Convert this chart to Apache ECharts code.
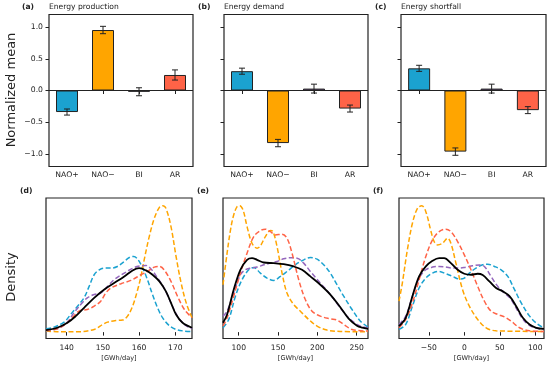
<!DOCTYPE html>
<html>
<head>
<meta charset="utf-8">
<script src="https://cdn.jsdelivr.net/npm/echarts@6/dist/echarts.min.js"></script>
<style>html,body{margin:0;padding:0;background:#fff}#c{width:550px;height:365px}</style>
</head>
<body>
<div id="c"></div>
<script>
// ---------- data ----------
const categories = ['NAO+', 'NAO\u2212', 'BI', 'AR'];
const prodMean = [-0.34, 0.955, -0.02, 0.245];
const prodErr = [0.048, 0.058, 0.063, 0.08];
const demMean = [0.305, -0.83, 0.03, -0.285];
const demErr = [0.048, 0.058, 0.07, 0.055];
const shortMean = [0.35, -0.965, 0.03, -0.31];
const shortErr = [0.048, 0.058, 0.07, 0.055];
const barTicks = [-1, -0.5, 0, 0.5, 1];

const dTicks = [140, 150, 160, 170];
const eTicks = [100, 150, 200, 250];
const fTicks = [-50, 0, 50, 100];

// Energy production densities (relative units)
const dAll = [[134.3,1.6],[137.4,3.4],[140.2,7.3],[142.5,12.5],[144.8,19.0],[147.6,26.8],[150.3,33.2],[153.1,38.4],[155.9,43.6],[158.2,48.3],[160.0,50.1],[161.9,48.3],[163.7,44.9],[165.6,39.7],[167.4,31.9],[168.8,22.9],[170.2,13.8],[172.0,7.3],[174.6,3.4]];
const dNAOp = [[134.3,2.6],[136.5,3.9],[139.3,7.8],[141.1,13.8],[143.0,20.3],[144.8,26.8],[146.2,35.8],[147.6,44.9],[149.0,48.8],[150.3,50.1],[152.2,50.1],[154.0,51.4],[155.9,55.3],[157.3,58.4],[158.5,59.2],[159.6,57.1],[161.0,50.1],[162.3,41.0],[163.7,29.4],[165.1,19.0],[166.5,11.2],[168.3,5.2],[170.2,2.1],[172.5,0.8],[174.6,0.5]];
const dNAOm = [[134.3,0.8],[137.4,0.3],[140.2,0.3],[143.0,0.3],[147.6,2.1],[150.0,6.0],[151.3,7.8],[153.6,9.1],[155.4,9.4],[156.8,12.5],[158.2,20.3],[159.6,33.2],[160.5,43.6],[161.4,56.6],[162.8,74.8],[164.2,89.1],[165.6,97.7],[166.5,99.0],[167.4,96.9],[168.8,82.6],[170.2,59.2],[171.6,38.4],[173.0,22.9],[174.6,11.2]];
const dBI = [[134.3,1.0],[137.4,2.6],[140.2,7.8],[142.0,15.1],[143.9,21.6],[145.7,26.8],[147.6,29.4],[149.4,30.6],[151.3,35.8],[153.1,41.0],[155.9,46.2],[158.7,50.6],[160.5,51.9],[161.9,52.2],[163.3,49.4],[165.1,42.3],[166.9,34.5],[168.8,22.9],[170.6,12.5],[172.5,6.0],[174.6,2.6]];
const dAR = [[134.3,1.6],[137.4,2.6],[140.2,7.3],[142.0,12.5],[143.4,16.4],[145.7,17.7],[147.6,20.3],[149.4,24.2],[150.8,30.6],[152.2,34.5],[155.0,37.9],[157.7,40.5],[160.5,44.9],[162.3,47.5],[164.2,50.9],[165.6,51.4],[166.9,48.8],[168.8,39.7],[170.6,28.1],[172.5,17.7],[174.6,11.2]];

// Energy demand densities
const eAll = [[80,7.3],[85.2,13.8],[93.6,33.2],[102.1,48.8],[110.6,56.6],[116.9,57.9],[123.3,56.6],[131.8,54.5],[144.5,54.0],[157.2,53.2],[169.9,51.4],[180.5,48.8],[191.1,43.6],[203.8,37.1],[216.5,29.4],[229.2,19.5],[239.8,10.5],[250.4,5.0],[257.0,3.5],[264.4,2.6]];
const eNAOp = [[80,3.4],[87.3,9.9],[95.8,28.1],[104.2,41.0],[112.7,48.8],[119.1,50.6],[127.5,46.2],[136.0,42.3],[144.5,40.5],[153.0,43.6],[161.4,47.5],[172.0,52.7],[182.6,56.6],[191.1,58.4],[199.6,57.1],[208.1,52.7],[216.5,46.2],[225.0,37.1],[233.5,28.1],[244.1,17.7],[254.7,8.6],[264.4,3.9]];
const eNAOm = [[80,37.1],[85.2,61.8],[89.4,79.5],[93.6,91.7],[97.9,98.2],[101.3,99.0],[105.5,95.6],[110.6,82.6],[116.9,69.6],[123.3,65.7],[127.5,67.5],[133.9,74.8],[140.3,79.5],[143.6,78.7],[148.7,67.0],[155.1,46.2],[161.4,30.6],[169.9,21.6],[178.4,16.4],[189.0,9.9],[199.6,4.7],[212.3,1.6],[229.2,0.5],[264.4,0.3]];
const eBI = [[80,12.5],[85.2,16.4],[93.6,30.6],[102.1,44.9],[108.5,48.8],[114.8,50.1],[123.3,50.9],[131.8,52.7],[140.3,54.0],[148.7,55.3],[157.2,57.4],[165.7,58.2],[174.2,57.9],[182.6,54.0],[191.1,47.5],[203.8,38.4],[216.5,29.4],[229.2,19.0],[241.9,9.9],[254.7,4.7],[264.4,3.4]];
const eAR = [[80,4.7],[85.2,11.2],[93.6,28.1],[102.1,46.2],[110.6,61.8],[119.1,74.8],[127.5,79.5],[133.9,80.6],[140.3,78.7],[146.6,76.1],[155.1,76.6],[161.4,73.5],[167.8,61.8],[176.3,41.0],[184.7,25.5],[193.2,16.4],[203.8,12.5],[216.5,10.4],[225.0,9.4],[233.5,6.0],[244.1,2.1],[264.4,0.8]];

// Energy shortfall densities
const fAll = [[-92,4.7],[-82.5,11.2],[-73.1,28.1],[-63.7,43.6],[-54.2,51.4],[-44.8,55.8],[-35.4,57.9],[-28.3,57.9],[-18.9,54.0],[-9.4,48.8],[0,45.7],[9.4,44.9],[18.9,45.7],[25.9,44.7],[35.4,39.7],[44.8,34.5],[54.2,31.9],[63.7,28.1],[73.1,20.3],[82.5,11.2],[92,6.0],[101.4,3.4],[112.3,2.6]];
const fNAOp = [[-92,2.1],[-82.5,6.0],[-73.1,20.3],[-63.7,34.5],[-54.2,42.3],[-44.8,46.2],[-35.4,47.5],[-25.9,45.7],[-16.5,43.6],[-7.1,41.6],[0,42.3],[7.1,46.2],[16.5,50.1],[25.9,52.7],[33,53.2],[42.5,51.4],[51.9,48.8],[61.3,43.6],[70.8,33.2],[80.2,22.9],[92,12.5],[103.8,6.0],[112.3,3.4]];
const fNAOm = [[-92,24.2],[-87.3,38.4],[-80.2,64.4],[-73.1,85.2],[-66,96.9],[-59.9,99.0],[-54.2,94.3],[-47.2,79.5],[-42.5,70.9],[-37.7,68.3],[-30.7,69.6],[-23.6,73.5],[-18.9,69.6],[-11.8,54.0],[-2.4,33.2],[7.1,20.3],[18.9,9.9],[30.7,3.4],[44.8,1.0],[112.3,0.5]];
const fBI = [[-92,6.0],[-82.5,12.5],[-73.1,28.1],[-63.7,42.3],[-54.2,48.8],[-44.8,50.9],[-35.4,51.4],[-25.9,50.9],[-16.5,50.1],[-7.1,50.1],[2.4,50.9],[11.8,51.9],[21.2,52.5],[28.3,51.4],[37.7,43.6],[47.2,35.8],[56.6,30.6],[66,25.5],[75.5,16.4],[84.9,8.6],[96.7,3.9],[112.3,2.1]];
const fAR = [[-92,3.4],[-82.5,9.9],[-73.1,22.9],[-63.7,41.0],[-54.2,59.2],[-44.8,72.2],[-35.4,78.7],[-25.9,80.6],[-18.9,78.7],[-9.4,70.9],[0,60.5],[9.4,48.8],[18.9,35.8],[28.3,24.2],[37.7,16.4],[47.2,13.8],[56.6,11.9],[66,8.6],[77.8,3.4],[92,1.0],[112.3,0.5]];

// ---------- style ----------
const C_NAOP = '#1ba2d0', C_NAOM = '#ffa500', C_BI = '#9467bd', C_AR = '#ff6347';
const barColors = [C_NAOP, C_NAOM, C_BI, C_AR];
const FONT = 'DejaVu Sans';
const INK = '#222';

const topGrids = [
  {left: 49, top: 14.5, width: 144, height: 152},
  {left: 224, top: 14.5, width: 144, height: 152},
  {left: 401, top: 14.5, width: 145, height: 152}
];
const botGrids = [
  {left: 46, top: 198, width: 146, height: 140.5},
  {left: 223, top: 198, width: 145, height: 140.5},
  {left: 399, top: 198, width: 145, height: 140.5}
];
const grids = topGrids.concat(botGrids).map(g => Object.assign({
  show: true, borderColor: INK, borderWidth: 1.2, backgroundColor: 'transparent', containLabel: false
}, g));

const minus = s => String(s).replace('-', '\u2212');

const xAxes = [], yAxes = [];
for (let i = 0; i < 3; i++) {
  xAxes.push({
    type: 'category', gridIndex: i, data: categories,
    axisLine: {show: false},
    axisTick: {show: true, alignWithLabel: true, length: 3.5, lineStyle: {color: INK, width: 1}},
    axisLabel: {fontFamily: FONT, fontSize: 7.7, color: INK, margin: 5, interval: 0}
  });
  yAxes.push({
    type: 'value', gridIndex: i, min: -1.2, max: 1.2,
    splitLine: {show: false}, axisLine: {show: false},
    axisTick: {show: true, length: 3.5, customValues: barTicks, lineStyle: {color: INK, width: 1}},
    axisLabel: {show: i === 0, customValues: barTicks, fontFamily: FONT, fontSize: 7.7, color: INK, margin: 6,
      formatter: v => minus(Number(v).toFixed(1))}
  });
}
const ranges = [[134.3, 174.6], [80, 264.4], [-92, 112.3]];
const xt = [dTicks, eTicks, fTicks];
for (let i = 0; i < 3; i++) {
  xAxes.push({
    type: 'value', gridIndex: 3 + i, min: ranges[i][0], max: ranges[i][1],
    splitLine: {show: false}, axisLine: {show: false},
    axisTick: {show: true, length: 3.5, customValues: xt[i], lineStyle: {color: INK, width: 1}},
    axisLabel: {customValues: xt[i], fontFamily: FONT, fontSize: 7.6, color: INK, margin: 6,
      formatter: v => minus(v)}
  });
  yAxes.push({
    type: 'value', gridIndex: 3 + i, min: -5, max: 105,
    splitLine: {show: false}, axisLine: {show: false}, axisTick: {show: false}, axisLabel: {show: false}
  });
}

const series = [];
const means = [prodMean, demMean, shortMean];
const errs = [prodErr, demErr, shortErr];
for (let i = 0; i < 3; i++) {
  series.push({
    type: 'bar', xAxisIndex: i, yAxisIndex: i, barWidth: 22,
    data: means[i].map((v, k) => ({value: v, itemStyle: {color: barColors[k]}})),
    itemStyle: {borderColor: INK, borderWidth: 1},
    silent: true, animation: false,
    markLine: {silent: true, symbol: 'none', label: {show: false},
      lineStyle: {color: INK, width: 1.1, type: 'solid'}, data: [{yAxis: 0}]}
  });
  series.push({
    type: 'custom', xAxisIndex: i, yAxisIndex: i, silent: true, animation: false, z: 5,
    data: means[i].map((v, k) => [k, v - errs[i][k], v + errs[i][k]]),
    renderItem: (params, api) => {
      const lo = api.coord([api.value(0), api.value(1)]);
      const hi = api.coord([api.value(0), api.value(2)]);
      const w = 3;
      const st = {stroke: INK, lineWidth: 1};
      return {type: 'group', children: [
        {type: 'line', shape: {x1: lo[0], y1: lo[1], x2: hi[0], y2: hi[1]}, style: st},
        {type: 'line', shape: {x1: lo[0] - w, y1: lo[1], x2: lo[0] + w, y2: lo[1]}, style: st},
        {type: 'line', shape: {x1: hi[0] - w, y1: hi[1], x2: hi[0] + w, y2: hi[1]}, style: st}
      ]};
    }
  });
}
const dens = [
  [dAll, dNAOp, dNAOm, dBI, dAR],
  [eAll, eNAOp, eNAOm, eBI, eAR],
  [fAll, fNAOp, fNAOm, fBI, fAR]
];
const densColors = ['#000', C_NAOP, C_NAOM, C_BI, C_AR];
for (let i = 0; i < 3; i++) {
  dens[i].forEach((d, k) => {
    series.push({
      type: 'line', xAxisIndex: 3 + i, yAxisIndex: 3 + i, data: d,
      smooth: 0.35, showSymbol: false, symbol: 'none', silent: true, animation: false,
      clip: true, z: k === 0 ? 3 : 2,
      lineStyle: k === 0 ? {color: '#000', width: 1.8} : {color: densColors[k], width: 1.5, type: [5, 2.5]}
    });
  });
}

const txt = (x, y, text, opt) => ({type: 'text', x: x, y: y, silent: true,
  style: Object.assign({text: text, fontFamily: FONT, fontSize: 7.6, fill: INK, textVerticalAlign: 'middle'}, opt || {})});
const graphic = [
  txt(22, 7.5, '(a)', {fontWeight: 'bold'}), txt(49, 7.5, 'Energy production'),
  txt(198, 7.5, '(b)', {fontWeight: 'bold'}), txt(224, 7.5, 'Energy demand'),
  txt(375, 7.5, '(c)', {fontWeight: 'bold'}), txt(401, 7.5, 'Energy shortfall'),
  txt(20, 191.5, '(d)', {fontWeight: 'bold'}),
  txt(197, 191.5, '(e)', {fontWeight: 'bold'}),
  txt(373, 191.5, '(f)', {fontWeight: 'bold'}),
  txt(119, 358, '[GWh/day]', {fontSize: 6.6, textAlign: 'center'}),
  txt(295.5, 358, '[GWh/day]', {fontSize: 6.6, textAlign: 'center'}),
  txt(471.5, 358, '[GWh/day]', {fontSize: 6.6, textAlign: 'center'}),
  {type: 'text', x: 12, y: 90, rotation: Math.PI / 2, silent: true,
    style: {text: 'Normalized mean', fontFamily: FONT, fontSize: 13, fill: INK, textAlign: 'center', textVerticalAlign: 'middle'}},
  {type: 'text', x: 12, y: 277, rotation: Math.PI / 2, silent: true,
    style: {text: 'Density', fontFamily: FONT, fontSize: 13, fill: INK, textAlign: 'center', textVerticalAlign: 'middle'}}
];

const chart = echarts.init(document.getElementById('c'), null, {renderer: 'canvas'});
chart.setOption({
  animation: false,
  backgroundColor: '#fff',
  grid: grids,
  xAxis: xAxes,
  yAxis: yAxes,
  series: series,
  graphic: graphic
});
</script>
</body>
</html>
